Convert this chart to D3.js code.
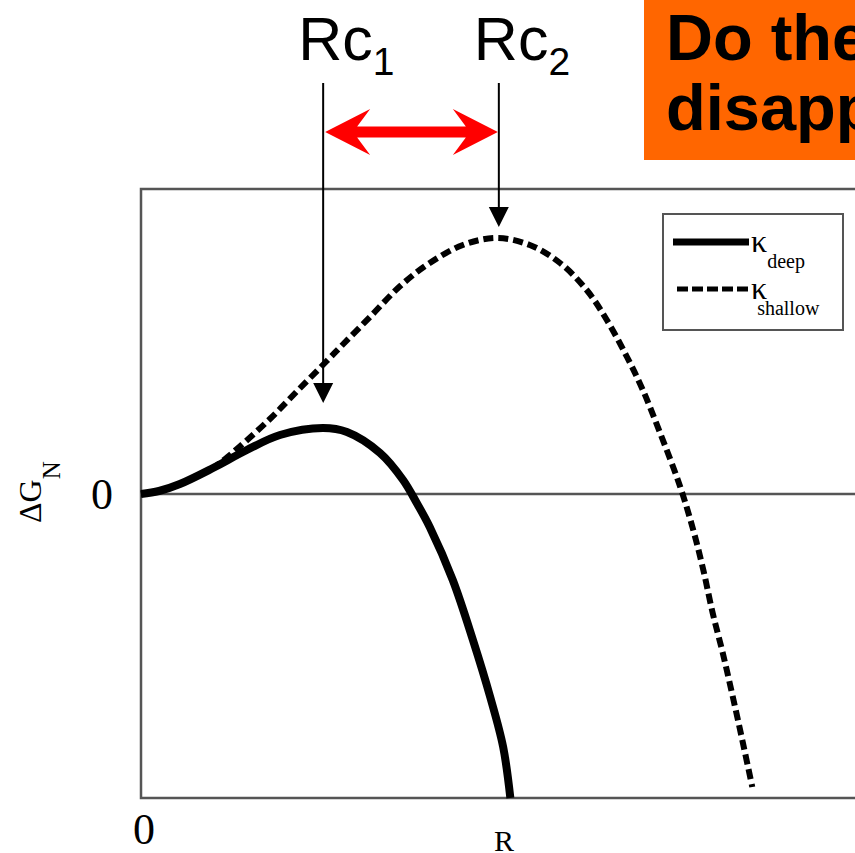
<!DOCTYPE html>
<html>
<head>
<meta charset="utf-8">
<script src="https://cdn.jsdelivr.net/npm/d3@7/dist/d3.min.js"></script>
<style>
  body { margin: 0; background: #fff; }
  svg { display: block; }
</style>
</head>
<body>
<div id="chart"></div>
<script>
// curve data (R in arbitrary units, dG in arbitrary units)
const rDeep = [0, 0.25, 0.54, 1.0, 1.47, 1.93, 2.53, 2.86, 3.32, 3.64, 3.83, 4.01, 4.33, 4.61, 4.85, 5.03, 5.13];
const gDeep = [0, 0.3, 1.0, 2.6, 4.4, 5.9, 6.6, 6.2, 4.1, 1.4, -0.9, -3.3, -8.6, -14.6, -20.3, -25.3, -30.4];

const rShallow = [0, 0.25, 0.54, 1.0, 1.2, 1.38, 1.79, 2.17, 2.58, 2.81, 3.18, 3.6, 4.01, 4.47, 4.94, 5.4, 5.82, 6.19, 6.47, 6.75, 6.97, 7.21, 7.49, 7.67, 7.81, 7.94, 8.08, 8.22, 8.36, 8.49];
const gShallow = [0, 0.3, 1.0, 2.6, 3.7, 4.8, 7.5, 10.3, 13.3, 15.0, 17.7, 20.8, 23.1, 24.9, 25.6, 24.9, 23.1, 20.4, 17.4, 13.7, 10.4, 6.1, 0.7, -3.6, -7.6, -11.9, -15.9, -20.3, -24.9, -29.3];

// critical radii (where the arrows point) and arrow tips
const rcX = [2.53, 4.97];
const rcTip = [9.1, 26.7];
const rcNames = ["1", "2"];

const legendNames = ["deep", "shallow"];
const titleLines = ["Do they", "disappear?"];

const width = 855, height = 853;
const margin = {top: 189, left: 141, bottom: 55};

const x = d3.scaleLinear().domain([0, 10]).range([margin.left, margin.left + 720]);
const y = d3.scaleLinear().domain([-30.4, 30.5]).range([height - margin.bottom, margin.top]);

const svg = d3.select("#chart").append("svg")
    .attr("width", width)
    .attr("height", height);

const serif = "'Liberation Serif','DejaVu Serif',serif";
const sans = "'Liberation Sans',Arial,sans-serif";
const frameCol = "#555";

// frame (right side runs off the page)
svg.append("path")
    .attr("d", "M" + (x(10) + 5) + "," + y.range()[1] + "H" + x(0) + "V" + y.range()[0] + "H" + (x(10) + 5))
    .attr("fill", "none")
    .attr("stroke", frameCol)
    .attr("stroke-width", 2.5);

// zero line
svg.append("line")
    .attr("x1", x(0)).attr("x2", x(10))
    .attr("y1", y(0)).attr("y2", y(0))
    .attr("stroke", frameCol)
    .attr("stroke-width", 2.5);

// tick labels + axis titles
svg.append("text")
    .attr("x", x(0) + 3).attr("y", 844)
    .attr("text-anchor", "middle")
    .style("font-family", serif).style("font-size", "44px")
    .text("0");

svg.append("text")
    .attr("x", 102).attr("y", y(0) + 15)
    .attr("text-anchor", "middle")
    .style("font-family", serif).style("font-size", "44px")
    .text("0");

svg.append("text")
    .attr("x", 504).attr("y", 851)
    .attr("text-anchor", "middle")
    .style("font-family", serif).style("font-size", "30px")
    .text("R");

const ylab = svg.append("text")
    .attr("transform", "translate(41,523) rotate(-90)")
    .style("font-family", serif).style("font-size", "32px");
ylab.append("tspan").text("\u0394G");
ylab.append("tspan").attr("dy", 19).style("font-size", "25px").text("N");

// curves
const line = d3.line()
    .x(d => x(d[0]))
    .y(d => y(d[1]))
    .curve(d3.curveCatmullRom);

svg.append("path")
    .datum(d3.zip(rShallow, gShallow))
    .attr("d", line)
    .attr("fill", "none")
    .attr("stroke", "#000")
    .attr("stroke-width", 6)
    .attr("stroke-dasharray", "10,5");

svg.append("path")
    .datum(d3.zip(rDeep, gDeep))
    .attr("d", line)
    .attr("fill", "none")
    .attr("stroke", "#000")
    .attr("stroke-width", 8);

// legend
const lg = svg.append("g");
lg.append("rect")
    .attr("x", 663).attr("y", 214)
    .attr("width", 180).attr("height", 116)
    .attr("fill", "#fff")
    .attr("stroke", frameCol).attr("stroke-width", 2);

lg.selectAll("line.key").data(legendNames).enter().append("line")
    .attr("class", "key")
    .attr("x1", (d, i) => i ? 677 : 673).attr("x2", 749)
    .attr("y1", (d, i) => 242 + i * 47).attr("y2", (d, i) => 242 + i * 47)
    .attr("stroke", "#000")
    .attr("stroke-width", (d, i) => i ? 5 : 7)
    .attr("stroke-dasharray", (d, i) => i ? "11,4" : null);

const lt = lg.selectAll("text.key").data(legendNames).enter().append("text")
    .attr("class", "key")
    .attr("x", 751)
    .attr("y", (d, i) => 252 + i * 47)
    .style("font-family", serif).style("font-size", "32px");
lt.append("tspan").text("\u03ba");
lt.append("tspan")
    .attr("dx", (d, i) => i ? -10 : 0)
    .attr("dy", 16)
    .style("font-size", "20px")
    .text(d => d);

// Rc arrows
const arrows = svg.append("g");
rcX.forEach((r, i) => {
    const cx = x(r), tip = y(rcTip[i]);
    arrows.append("line")
        .attr("x1", cx).attr("x2", cx)
        .attr("y1", 83).attr("y2", tip - 18)
        .attr("stroke", "#000").attr("stroke-width", 2);
    arrows.append("path")
        .attr("d", "M" + (cx - 10) + "," + (tip - 20) + "L" + (cx + 10) + "," + (tip - 20) + "L" + cx + "," + tip + "Z")
        .attr("fill", "#000");
    const t = arrows.append("text")
        .attr("x", cx - 25).attr("y", 60)
        .style("font-family", sans).style("font-size", "61px");
    t.append("tspan").text("Rc");
    t.append("tspan").attr("dy", 15).style("font-size", "39px").text(rcNames[i]);
});

// red double arrow between Rc1 and Rc2
const a1 = x(rcX[0]) + 2, a2 = x(rcX[1]) - 1, ay = 132;
const hl = 45, hw = 23, sw = 5.5, nb = 32;
svg.append("path")
    .attr("d", [
        "M", a1, ay,
        "L", a1 + hl, ay - hw,
        "L", a1 + nb, ay - sw,
        "L", a2 - nb, ay - sw,
        "L", a2 - hl, ay - hw,
        "L", a2, ay,
        "L", a2 - hl, ay + hw,
        "L", a2 - nb, ay + sw,
        "L", a1 + nb, ay + sw,
        "L", a1 + hl, ay + hw,
        "Z"].join(" "))
    .attr("fill", "#ff0000");

// orange title box, runs off the right edge
svg.append("rect")
    .attr("x", 644).attr("y", 0)
    .attr("width", 300).attr("height", 160)
    .attr("fill", "#ff6600");

svg.selectAll("text.title").data(titleLines).enter().append("text")
    .attr("class", "title")
    .attr("x", 666)
    .attr("y", (d, i) => 60 + i * 70)
    .style("font-family", sans).style("font-size", "65px").style("font-weight", "bold")
    .text(d => d);
</script>
</body>
</html>
